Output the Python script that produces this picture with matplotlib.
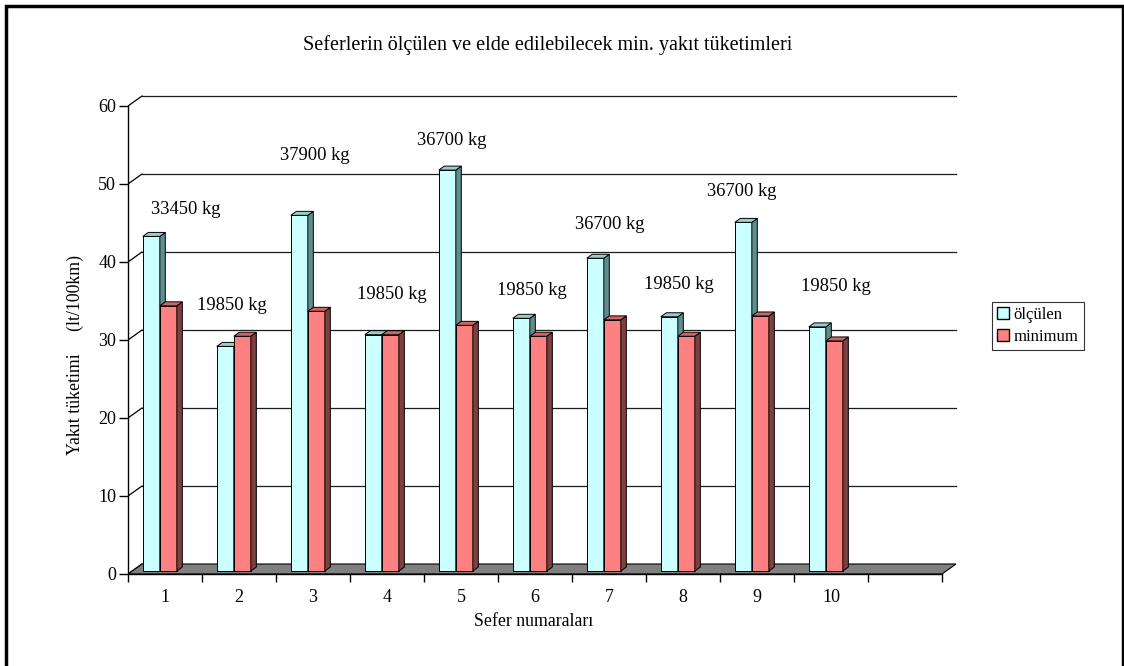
import numpy as np
import matplotlib.pyplot as plt
from matplotlib.patches import Polygon, Patch, Rectangle

plt.rcParams["font.family"] = ["Liberation Serif", "DejaVu Serif"]

trips = [1, 2, 3, 4, 5, 6, 7, 8, 9, 10]
measured = [42.9, 28.8, 45.6, 30.3, 51.4, 32.4, 40.1, 32.6, 44.7, 31.3]
minimum = [34.0, 30.1, 33.3, 30.3, 31.5, 30.1, 32.2, 30.1, 32.7, 29.5]
loads = ["33450 kg", "19850 kg", "37900 kg", "19850 kg", "36700 kg",
         "19850 kg", "36700 kg", "19850 kg", "36700 kg", "19850 kg"]
load_pos = [(1.28, 46.7), (1.90, 34.4), (3.03, 53.6), (4.07, 35.8), (4.88, 55.6),
            (5.96, 36.4), (7.01, 44.8), (7.95, 37.1), (8.80, 49.1), (10.07, 36.8)]
yticks = [0, 10, 20, 30, 40, 50, 60]

W, H = 1124, 666
fig = plt.figure(figsize=(W / 100, H / 100), dpi=100)
# axes placed in pixel terms: x slot = 74 px, 1 unit in y = 7.8 px
ax = fig.add_axes([128 / W, 1 - 582 / H, (979 - 128) / W, (582 - 88) / H])
ax.set_xlim(0.5, 12.0)
ax.set_ylim(-8 / 7.8, (574 - 88) / 7.8)

dx, dy = 14 / 74, 10 / 7.8      # depth of the box
bdx, bdy = 5.5 / 74, 4 / 7.8    # depth of one bar
base = 0.38
bw = 0.23
nslots = 11

# floor
floor = Polygon([(0.5, 0), (0.5 + nslots, 0), (0.5 + nslots + dx, dy), (0.5 + dx, dy)],
                closed=True, facecolor="#808080", edgecolor="black", lw=0.8, zorder=1)
ax.add_patch(floor)

# back wall gridlines and the diagonals from the axis
for v in yticks[1:]:
    ax.plot([0.5 + dx, 0.5 + nslots + dx], [v + dy, v + dy], color="#1a1a1a", lw=0.9, zorder=0.5)
for v in yticks:
    ax.plot([0.5, 0.5 + dx], [v, v + dy], color="black", lw=0.9, zorder=0.5)

x = np.array(trips, dtype=float)


def bar3d(xs, vals, front, side, top, z):
    ax.bar(xs, vals, width=bw, bottom=base, align="edge", color=front,
           edgecolor="black", linewidth=0.7, zorder=z)
    for xi, v in zip(xs, vals):
        h = base + v
        ax.add_patch(Polygon([(xi + bw, base), (xi + bw + bdx, base + bdy),
                              (xi + bw + bdx, h + bdy), (xi + bw, h)],
                             closed=True, facecolor=side, edgecolor="black", lw=0.7, zorder=z))
        ax.add_patch(Polygon([(xi, h), (xi + bdx, h + bdy), (xi + bw + bdx, h + bdy), (xi + bw, h)],
                             closed=True, facecolor=top, edgecolor="black", lw=0.7, zorder=z))


bar3d(x - 0.3, measured, "#CCFFFF", "#5F8C8C", "#99CCCC", 2)
bar3d(x - 0.07, minimum, "#FF8080", "#7F3F3F", "#CC6666", 3)

for txt, (lx, ly) in zip(loads, load_pos):
    ax.text(lx, ly, txt, ha="center", va="center", fontsize=13.3, zorder=5)

# axes
for s in ["top", "right"]:
    ax.spines[s].set_visible(False)
ax.spines["left"].set_bounds(0, 60)
ax.spines["left"].set_position(("data", 0.5))
ax.spines["bottom"].set_position(("data", 0))
ax.spines["bottom"].set_bounds(0.5, 0.5 + nslots)
ax.spines["left"].set_linewidth(1.0)
ax.spines["bottom"].set_linewidth(1.0)

ax.set_yticks(yticks)
ax.tick_params(axis="y", length=6.5, width=1, labelsize=13, pad=2)
ax.set_xticks(x)
ax.set_xticklabels([str(t) for t in trips])
ax.set_xticks(np.arange(0.5, nslots + 1), minor=True)
ax.tick_params(axis="x", which="major", length=0, labelsize=13, pad=11)
ax.tick_params(axis="x", which="minor", length=6, width=1)

fig.text(548 / W, 1 - 45 / H, "Seferlerin ölçülen ve elde edilebilecek min. yakıt tüketimleri",
         ha="center", va="center", fontsize=14.5)
fig.text(534 / W, 1 - 622 / H, "Sefer numaraları", ha="center", va="center", fontsize=12.8)
fig.text(75 / W, 1 - 355 / H, "Yakıt tüketimi     (lt/100km)", ha="center", va="center",
         rotation=90, fontsize=12.8)

handles = [Patch(facecolor="#CCFFFF", edgecolor="black", label="ölçülen"),
           Patch(facecolor="#FF8080", edgecolor="black", label="minimum")]
leg = fig.legend(handles=handles, loc="upper left", bbox_to_anchor=(992 / W, 1 - 302 / H),
                 fontsize=12, frameon=True, fancybox=False, edgecolor="black",
                 handlelength=0.7, handleheight=0.7, handletextpad=0.3,
                 borderpad=0.3, labelspacing=0.35, borderaxespad=0)
leg.get_frame().set_linewidth(0.8)

fig.patches.append(Rectangle((6 / W, -0.02), (1117 / W), 1 - 6 / H + 0.02,
                             transform=fig.transFigure, fill=False, edgecolor="black", lw=2.5))

fig.savefig("out.png", dpi=100)
